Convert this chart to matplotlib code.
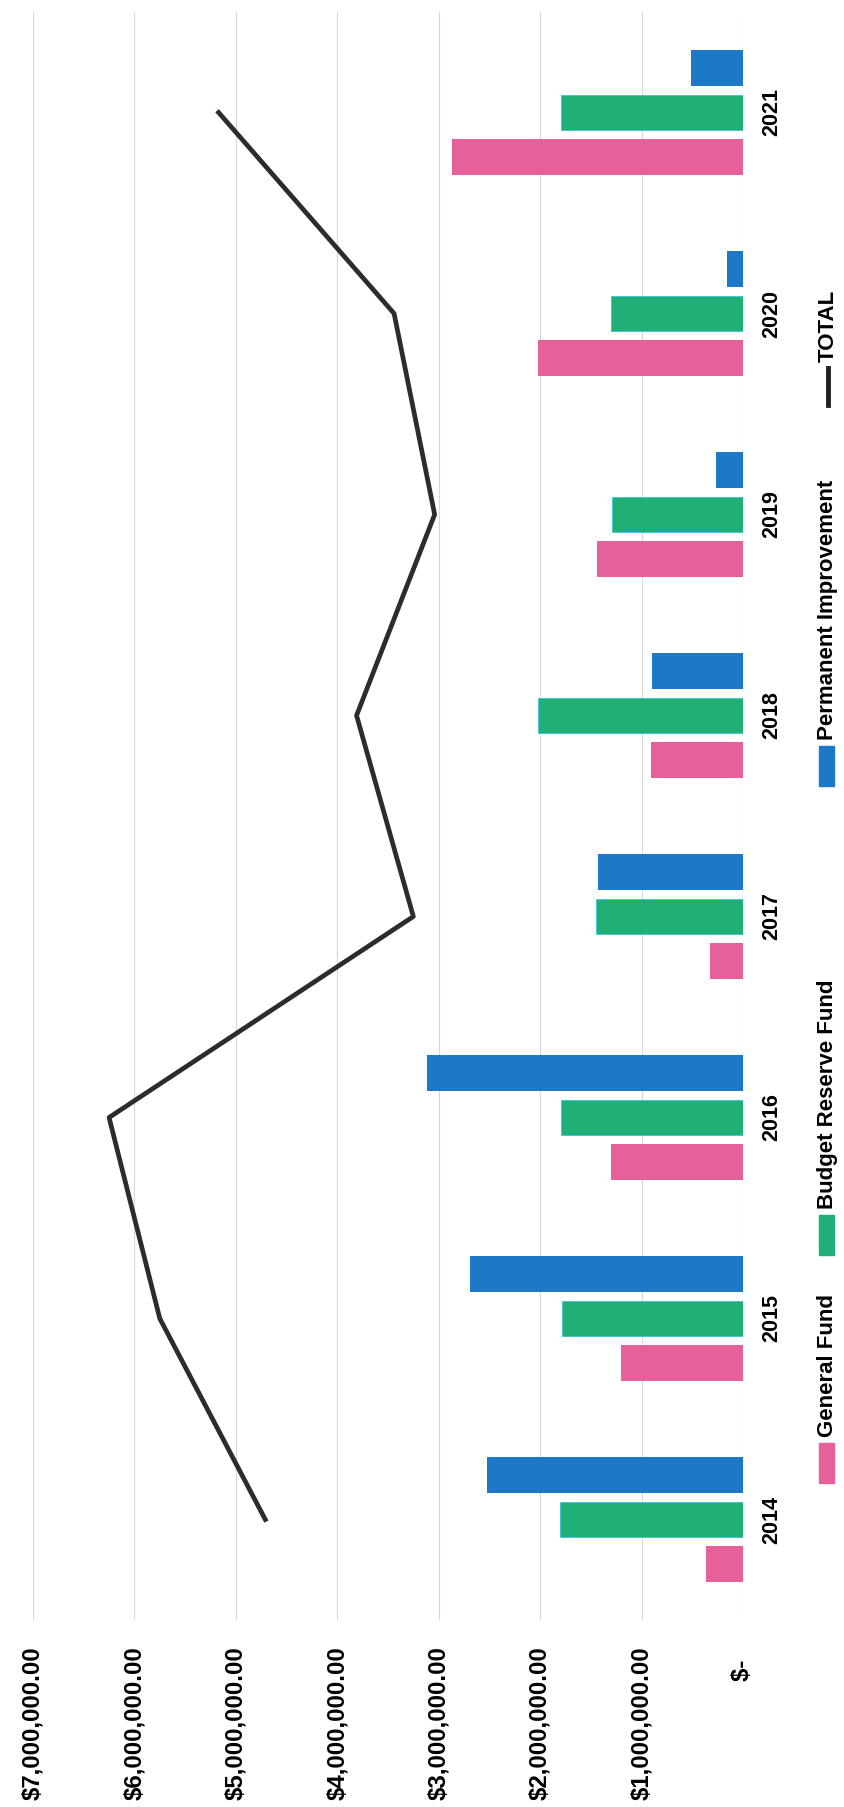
import numpy as np
import matplotlib
matplotlib.use("Agg")
import matplotlib.pyplot as plt
from matplotlib.patches import Rectangle
from matplotlib.lines import Line2D

plt.rcParams['font.family'] = ['Liberation Sans', 'DejaVu Sans']
plt.rcParams['font.weight'] = 'bold'

# Data (values in dollars)
years = ['2014', '2015', '2016', '2017', '2018', '2019', '2020', '2021']
general_fund = [0.36e6, 1.20e6, 1.30e6, 0.33e6, 0.91e6, 1.44e6, 2.02e6, 2.87e6]
budget_reserve = [1.80e6, 1.78e6, 1.79e6, 1.45e6, 2.02e6, 1.29e6, 1.30e6, 1.79e6]
permanent_impr = [2.52e6, 2.69e6, 3.12e6, 1.43e6, 0.90e6, 0.27e6, 0.16e6, 0.51e6]
total = [4.71e6, 5.75e6, 6.25e6, 3.25e6, 3.81e6, 3.04e6, 3.44e6, 5.17e6]

value_ticks = [0, 1e6, 2e6, 3e6, 4e6, 5e6, 6e6, 7e6]
value_labels = ['$-  ', '$1,000,000.00', '$2,000,000.00', '$3,000,000.00',
                '$4,000,000.00', '$5,000,000.00', '$6,000,000.00', '$7,000,000.00']

pink = '#E6609B'
green = '#1FAF77'
blue = '#1E78C8'

W, H = 845, 1807
fig = plt.figure(figsize=(W / 100, H / 100), dpi=100)

# plot area in pixels (the chart is printed rotated 90 degrees)
left_px, right_px, top_px, bottom_px = 33, 743, 12, 1620
ax = fig.add_axes([left_px / W, 1 - bottom_px / H,
                   (right_px - left_px) / W, (bottom_px - top_px) / H])

pos = np.arange(len(years))
bh = 0.177
off = 0.222

ax.barh(pos - off, general_fund, height=bh, color=pink, zorder=2)
ax.barh(pos, budget_reserve, height=bh, color=green, edgecolor='#3CC3D6',
        linewidth=0.6, zorder=2)
ax.barh(pos + off, permanent_impr, height=bh, color=blue, zorder=2)
ax.plot(total, pos, color='#2c2c2c', linewidth=3.4, zorder=3)

ax.set_xlim(7e6, 0)
ax.set_ylim(-0.5, len(years) - 0.5)

ax.set_xticks(value_ticks)
ax.set_xticklabels(value_labels, rotation=90, fontsize=17.3, fontweight='bold')
ax.tick_params(axis='x', length=0, pad=19)
ax.grid(axis='x', color='#d8d8d8', linewidth=0.8, zorder=0)

ax.yaxis.tick_right()
ax.set_yticks(pos)
ax.set_yticklabels(years, rotation=90, fontsize=15.5, fontweight='bold',
                   va='center')
ax.tick_params(axis='y', length=0, pad=13)

for s in ax.spines.values():
    s.set_visible(False)

# legend, drawn rotated along the right edge
def fx(px):
    return px / W

def fy(py):
    return 1 - py / H

text_x = 828
mark_w = 15
mark_h = 40
entries = [('General Fund', pink, 1483),
           ('Budget Reserve Fund', green, 1255),
           ('Permanent Improvement', blue, 786)]
for label, col, start in entries:
    fig.add_artist(Rectangle((fx(text_x - 1 - mark_w / 2), fy(start)),
                             mark_w / W, mark_h / H, color=col,
                             transform=fig.transFigure))
    fig.text(fx(text_x), fy(start - mark_h - 6), label, rotation=90,
             ha='center', va='bottom', fontsize=16, fontweight='bold')

fig.add_artist(Line2D([fx(text_x), fx(text_x)], [fy(405), fy(368)],
                      color='#202020', linewidth=3.5,
                      transform=fig.transFigure))
fig.text(fx(text_x), fy(362), 'TOTAL', rotation=90, ha='center', va='bottom',
         fontsize=16, fontweight='bold')

fig.savefig('out.png', dpi=100, facecolor='white')
